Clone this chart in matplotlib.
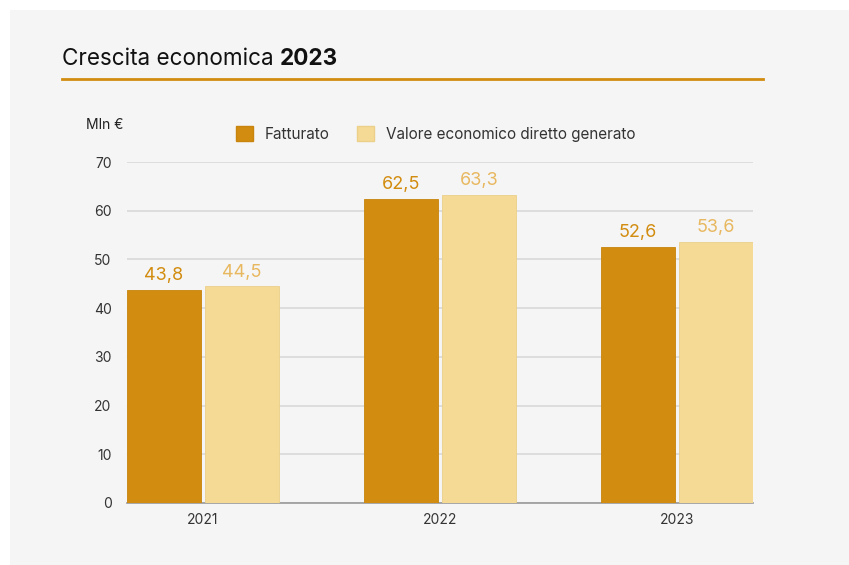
import matplotlib
matplotlib.use("Agg")
import matplotlib.pyplot as plt
import numpy as np
from matplotlib.patches import Rectangle, Patch
from matplotlib.lines import Line2D

years = ["2021", "2022", "2023"]
fatturato = [43.8, 62.5, 52.6]
valore = [44.5, 63.3, 53.6]
series_names = ["Fatturato", "Valore economico diretto generato"]
y_ticks = [0, 10, 20, 30, 40, 50, 60, 70]

plt.rcParams['font.family'] = ['Inter', 'DejaVu Sans']

W, H = 849, 565
fig = plt.figure(figsize=(W / 100, H / 100), dpi=100)
fig.patch.set_facecolor("white")

# background panel
fig.patches.append(Rectangle((10 / W, 0), 1 - 10 / W, 1 - 10 / H, transform=fig.transFigure,
                             facecolor="#f5f5f5", edgecolor="none", zorder=-5))

dark = "#d28c0f"
light = "#f5da96"
dark_lbl = "#d28c0f"
light_lbl = "#e8b860"

ax = fig.add_axes([127 / W, 1 - 503 / H, (753 - 127) / W, (503 - 162) / H])
ax.set_facecolor("none")
ax.set_zorder(2)

x = np.arange(len(years))
bw = 74 / 237
off = 39 / 237
b1 = ax.bar(x - off, fatturato, bw, color=dark, edgecolor="#c8840c", linewidth=0.6, zorder=3)
b2 = ax.bar(x + off, valore, bw, color=light, edgecolor="#ecd08a", linewidth=0.6, zorder=3)

for rect, v in zip(b1, fatturato):
    ax.annotate(f"{v:.1f}".replace(".", ","), (rect.get_x() + rect.get_width() / 2, v),
                xytext=(0, 4), textcoords="offset points", ha="center", va="bottom",
                fontsize=13, color=dark_lbl)
for rect, v in zip(b2, valore):
    ax.annotate(f"{v:.1f}".replace(".", ","), (rect.get_x() + rect.get_width() / 2, v),
                xytext=(0, 4), textcoords="offset points", ha="center", va="bottom",
                fontsize=13, color=light_lbl)

ax.set_xlim(-0.32, 2.32)
ax.set_ylim(0, 70)
ax.set_yticks(y_ticks)
ax.set_xticks(x)
ax.set_xticklabels(years)
ax.tick_params(axis="both", length=0, labelsize=10, colors="#333333")
ax.tick_params(axis="y", pad=11)
ax.tick_params(axis="x", pad=7)
ax.grid(axis="y", color="#d9d9d9", linewidth=1.2, zorder=0)
ax.set_axisbelow(True)
for s in ["top", "right", "left"]:
    ax.spines[s].set_visible(False)
ax.spines["bottom"].set_color("#999999")
ax.spines["bottom"].set_linewidth(1.2)

# "Mln €" label
fig.text(86 / W, 1 - 125 / H, "Mln €", fontsize=10, color="#222222", ha="left", va="center")

# legend
handles = [Patch(facecolor=dark, edgecolor="#c8840c"), Patch(facecolor=light, edgecolor="#ecd08a")]
leg = fig.legend(handles, series_names, loc="center left", bbox_to_anchor=(222 / W, 1 - 134 / H),
                 ncol=2, frameon=False, fontsize=11, handlelength=1.1, handleheight=1.1,
                 handletextpad=0.8, columnspacing=1.8, labelcolor="#333333")

# title
t1 = fig.text(62 / W, 1 - 59 / H, "Crescita economica ", fontsize=16.2, color="#111111",
              ha="left", va="center")
fig.canvas.draw()
r = fig.canvas.get_renderer()
bb = t1.get_window_extent(r)
fig.text(bb.x1 / W, 1 - 59 / H, "2023", fontsize=16.2, fontweight="bold", color="#111111",
         ha="left", va="center")

fig.lines.append(Line2D([62 / W, 763 / W], [1 - 79 / H, 1 - 79 / H], transform=fig.transFigure,
                        color="#d28c0f", linewidth=2))

fig.savefig("out.png", dpi=100, facecolor=fig.get_facecolor())
